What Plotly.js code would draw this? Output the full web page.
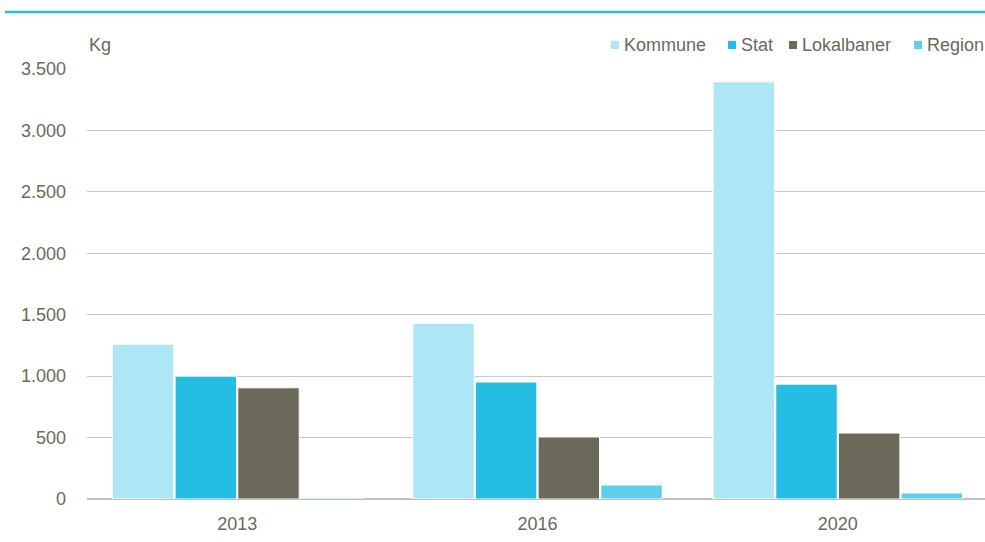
<!DOCTYPE html>
<html><head><meta charset="utf-8">
<script src="https://cdn.plot.ly/plotly-3.0.1.min.js"></script>
<style>html,body{margin:0;padding:0;background:#fff;overflow:hidden}#c{width:985px;height:542px;overflow:hidden}</style>
</head><body><div id="c"></div>
<script>
const years = ['2013', '2016', '2020'];
const kommune = [1260, 1430, 3395];
const stat = [1000, 952, 935];
const lokalbaner = [905, 505, 537];
const region = [10, 114, 49];
const seriesNames = ['Kommune', 'Stat', 'Lokalbaner', 'Region'];
const colors = ['#ade6f4', '#25bde2', '#6b6a5a', '#5ecfea'];
const yTicks = [0, 500, 1000, 1500, 2000, 2500, 3000, 3500];
const yTickText = ['0', '500', '1.000', '1.500', '2.000', '2.500', '3.000', '3.500'];

const values = [kommune, stat, lokalbaner, region];
const font = "'Liberation Sans', Arial, sans-serif";
const textColor = '#6b6a5a';
const traces = values.map((v, i) => ({
  type: 'bar', x: years, y: v, name: seriesNames[i], showlegend: false,
  marker: {color: colors[i], line: {color: '#ffffff', width: 1}},
  hoverinfo: 'x+y+name'
}));

// custom legend (pixel positions converted to paper coords)
const L = 87, W = 901, T = 69, H = 430;
const px = p => (p - L) / W;
const py = p => (T + H - p) / H;
const legendX = [611, 728, 789, 914];
const shapes = [{type: 'line', xref: 'paper', yref: 'paper', x0: px(5), x1: 1, y0: py(12), y1: py(12), line: {color: '#27bde2', width: 2.5}}];
const annotations = [{text: 'Kg', xref: 'paper', yref: 'paper', x: px(87), y: py(45), xanchor: 'left', yanchor: 'middle', showarrow: false,
                      font: {size: 18, color: textColor}}];
seriesNames.forEach((n, i) => {
  shapes.push({type: 'rect', xref: 'paper', yref: 'paper', x0: px(legendX[i]), x1: px(legendX[i] + 8), y0: py(49), y1: py(41),
               fillcolor: colors[i], line: {width: 0}});
  annotations.push({text: n, xref: 'paper', yref: 'paper', x: px(legendX[i] + 11), y: py(45), xanchor: 'left', yanchor: 'middle',
                    showarrow: false, font: {size: 18, color: textColor}});
});

const layout = {
  width: 988, height: 542,
  margin: {l: L, r: 0, t: T, b: 542 - T - H},
  paper_bgcolor: '#ffffff', plot_bgcolor: '#ffffff',
  barmode: 'group', bargap: 0.165, bargroupgap: 0.02,
  font: {family: font, size: 18, color: textColor},
  showlegend: false,
  xaxis: {type: 'category', range: [-0.5, 2.5], showgrid: false, showline: false, ticks: '', ticklabelstandoff: 12,
          tickfont: {size: 18, color: textColor}, fixedrange: true},
  yaxis: {range: [0, 3500], tickvals: yTicks, ticktext: yTickText, showgrid: true, gridcolor: '#c9c9c1', gridwidth: 1,
          zeroline: true, zerolinecolor: '#c2c2ba', zerolinewidth: 2, ticks: '', ticklabelstandoff: 20,
          tickfont: {size: 18, color: textColor}, showline: false, fixedrange: true},
  annotations: annotations,
  shapes: shapes
};
Plotly.newPlot('c', traces, layout, {displayModeBar: false, staticPlot: true});
</script></body></html>
